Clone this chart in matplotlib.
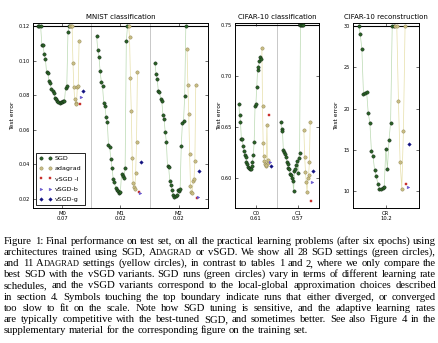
import numpy as np
import matplotlib
matplotlib.use("Agg")
import matplotlib.pyplot as plt
from matplotlib.lines import Line2D

# ---- data (test error per setting, left to right) ----
mnist_labels = ["M0\n0.07", "M1\n0.02", "M2\n0.02"]
m0_sgd = [0.12, 0.12, 0.12, 0.1093, 0.1090, 0.1038, 0.1009, 0.0933, 0.0928, 0.0881,
          0.0868, 0.0835, 0.0826, 0.0812, 0.0785, 0.0780, 0.0765, 0.0759, 0.0757,
          0.0759, 0.0761, 0.0765, 0.0763, 0.0841, 0.0852, 0.1165, 0.12]
m0_ada = [0.12, 0.12, 0.12, 0.0986, 0.0846, 0.0777, 0.0757, 0.0748, 0.0846, 0.0851, 0.1113]
m0_vsgd = [0.0750, 0.0788, 0.0823]
m1_sgd = [0.1144, 0.1061, 0.1020, 0.0939, 0.0875, 0.0852, 0.0754, 0.0736, 0.0672, 0.0643,
          0.0510, 0.0499, 0.0429, 0.0377, 0.0313, 0.0296, 0.0261, 0.0249, 0.0243, 0.0232,
          0.0236, 0.0342, 0.0330, 0.0319, 0.0377, 0.1113, 0.12]
m1_ada = [0.12, 0.1136, 0.0899, 0.0707, 0.0435, 0.0290, 0.0267, 0.0255, 0.0348, 0.0528, 0.0933]
m1_vsgd = [0.0238, 0.0232, 0.0412]
m2_sgd = [0.0987, 0.0922, 0.0893, 0.0822, 0.0817, 0.0780, 0.0765, 0.0684, 0.0660, 0.0586,
          0.0528, 0.0386, 0.0380, 0.0301, 0.0278, 0.0249, 0.0220, 0.0209, 0.0212, 0.0220,
          0.0250, 0.0244, 0.0255, 0.0504, 0.0638, 0.0650, 0.0794, 0.12]
m2_ada = [0.1067, 0.0858, 0.0690, 0.0458, 0.0272, 0.0240, 0.0232, 0.0300, 0.0313, 0.0417, 0.0858]
m2_vsgd = [0.0203, 0.0210, 0.0359]

cifar_labels = ["C0\n0.61", "C1\n0.57"]
c0_sgd = [0.6732, 0.6618, 0.6553, 0.6390, 0.6385, 0.6320, 0.6270, 0.6230, 0.6210, 0.6160,
          0.6140, 0.6110, 0.6100, 0.6090, 0.6095, 0.6124, 0.6160, 0.6230, 0.6360, 0.6710,
          0.6730, 0.6900, 0.7066, 0.7090, 0.7150, 0.7190, 0.7170]
c0_ada = [0.7280, 0.6710, 0.6350, 0.6220, 0.6170, 0.6140, 0.6124, 0.6135, 0.6526, 0.6150, 0.6180]
c0_vsgd = [0.6620, 0.6160, 0.6124]
c1_sgd = [0.6556, 0.6480, 0.6460, 0.6280, 0.6260, 0.6240, 0.6210, 0.6160, 0.6140, 0.6100,
          0.6090, 0.6045, 0.6030, 0.6000, 0.5970, 0.5880, 0.6070, 0.6090, 0.6135, 0.6170,
          0.6050, 0.6200, 0.6250, 0.75, 0.75, 0.75, 0.75]
c1_ada = [0.6470, 0.6213, 0.6065, 0.5967, 0.5870, 0.6000, 0.6030, 0.6160, 0.6550]
c1_vsgd = [0.5780, 0.5960, 0.6070]

recon_labels = ["CR\n10.2"]
cr_sgd = [30, 29.0, 27.2, 21.8, 21.9, 22.0, 19.4, 18.3, 14.8, 14.2, 12.5, 11.8, 10.9,
          10.3, 10.3, 10.4, 10.5, 15.1, 12.7, 16.2, 18.3, 30, 30]
cr_ada = [30, 30, 20.9, 13.5, 10.3, 17.3, 30]
cr_vsgd = [10.9, 10.5, 15.7]

caption = [
    "Figure 1: Final performance on test set, on all the practical learning problems (after six epochs) using",
    "architectures trained using SGD, ADAGRAD or vSGD. We show all 28 SGD settings (green circles),",
    "and 11 ADAGRAD settings (yellow circles), in contrast to tables 1 and 2, where we only compare the",
    "best SGD with the vSGD variants. SGD runs (green circles) vary in terms of different learning rate",
    "schedules, and the vSGD variants correspond to the local-global approximation choices described",
    "in section 4. Symbols touching the top boundary indicate runs that either diverged, or converged",
    "too slow to fit on the scale. Note how SGD tuning is sensitive, and the adaptive learning rates",
    "are typically competitive with the best-tuned SGD, and sometimes better. See also Figure 4 in the",
    "supplementary material for the corresponding figure on the training set.",
]

sgd_col = "#2a6226"
ada_col = "#c9bd84"
v_styles = [("s", "#c8302c", 2.0), (">", "#6a5acd", 2.0), ("D", "#101080", 1.8)]
dot = 2.4

W, H = 439, 343
fig = plt.figure(figsize=(W / 100, H / 100), dpi=100)


def panel(left, right, top_v, lims, ticks, ticklabels, title, names, groups, label_x=None):
    ax = fig.add_axes([left / W, 1 - 208 / H, (right - left) / W, (208 - 22.7) / H])
    n = len(names)
    for b in range(1, n):
        ax.axvline(b - 0.5, color="#c8c8c8", lw=0.7, zorder=0)
    ax.axhline(top_v, color="black", lw=0.8, zorder=2)
    for c, (sgd, ada, vs) in enumerate(groups):
        xs = c + np.linspace(-0.41, 0.12, len(sgd))
        xa = c + np.linspace(0.14, 0.29, len(ada))
        ax.plot(xs, sgd, "-", color="#b9d9b0", lw=0.5, zorder=1)
        ax.plot(xa, ada, "-", color="#e6dfa8", lw=0.5, zorder=1)
        ax.plot(xs, sgd, "o", ms=dot, mfc=sgd_col, mec="#102010", mew=0.3, zorder=3)
        ax.plot(xa, ada, "o", ms=dot, mfc=ada_col, mec="#8c8350", mew=0.3, zorder=3)
        for dx, v, (m, col, ms) in zip([0.31, 0.33, 0.35], vs, v_styles):
            ax.plot(c + dx, v, m, ms=ms, mfc=col, mec=col, mew=0.3, zorder=4)
    ax.set_xlim(-0.5, n - 0.5)
    ax.set_ylim(*lims)
    ax.set_xticks(range(n))
    ax.set_xticklabels(names, fontsize=3.8, linespacing=1.1)
    ax.set_yticks(ticks)
    ax.set_yticklabels(ticklabels, fontsize=3.6)
    ax.tick_params(direction="in", length=2, width=0.4, pad=2, right=True, top=True)
    ax.set_ylabel("Test error", fontsize=4.3, labelpad=3)
    if label_x is not None:
        ax.yaxis.set_label_coords(label_x, 0.5)
    ax.set_title(title, fontsize=5, pad=2.5)
    for s in ax.spines.values():
        s.set_linewidth(0.7)
    return ax


ax1 = panel(33, 208, 0.12, (0.0145, 0.122), [0.02, 0.04, 0.06, 0.08, 0.10, 0.12],
            ["0.02", "0.04", "0.06", "0.08", "0.10", "0.12"], "MNIST classification",
            mnist_labels, [(m0_sgd, m0_ada, m0_vsgd), (m1_sgd, m1_ada, m1_vsgd),
                           (m2_sgd, m2_ada, m2_vsgd)])
ax2 = panel(235, 319, 0.75, (0.571, 0.7526), [0.60, 0.65, 0.70, 0.75],
            ["0.60", "0.65", "0.70", "0.75"], "CIFAR-10 classification",
            cifar_labels, [(c0_sgd, c0_ada, c0_vsgd), (c1_sgd, c1_ada, c1_vsgd)],
            label_x=-0.16)
ax3 = panel(352.7, 419, 30, (7.94, 30.4), [10, 15, 20, 25, 30],
            ["10", "15", "20", "25", "30"], "CIFAR-10 reconstruction",
            recon_labels, [(cr_sgd, cr_ada, cr_vsgd)])

handles = [Line2D([], [], ls="none", marker="o", ms=dot, mfc=sgd_col, mec="#102010", mew=0.3),
           Line2D([], [], ls="none", marker="o", ms=dot, mfc=ada_col, mec="#8c8350", mew=0.3)]
for m, col, ms in v_styles:
    handles.append(Line2D([], [], ls="none", marker=m, ms=ms, mfc=col, mec=col, mew=0.3))
leg = ax1.legend(handles, ["SGD", "adagrad", "vSGD -l", "vSGD-b", "vSGD-g"], loc="lower left",
                 numpoints=2, fontsize=4.6, handlelength=2.0, labelspacing=0.75,
                 borderpad=0.5, handletextpad=0.5, fancybox=False, framealpha=1,
                 borderaxespad=0.4)
leg.get_frame().set_edgecolor("black")
leg.get_frame().set_linewidth(0.6)

# ---- caption, justified word by word ----
renderer = fig.canvas.get_renderer()
x0, x1 = 4.0, 436.0

# pick the font size so that the first line fits the text width naturally
probe = fig.text(0, 0, caption[0], fontsize=10, family="Liberation Serif")
fs = 10 * (x1 - x0) / probe.get_window_extent(renderer).width
probe.remove()


def make_word(w):
    # returns list of text artists forming one word (small caps for ADAGRAD)
    parts = [(w, 1.0)]
    if w.startswith("ADAGRAD"):
        parts = [("A", 1.0), ("DAGRAD" + w[7:], 0.78)]
    arts = []
    for s, f in parts:
        t = fig.text(0, 0, s, fontsize=fs * f, family="Liberation Serif", va="baseline")
        arts.append((t, t.get_window_extent(renderer).width))
    return arts


space = fs * 0.25 * 100 / 72
for i, line in enumerate(caption):
    words = [make_word(w) for w in line.split()]
    widths = [sum(wd for _, wd in arts) for arts in words]
    gap = (x1 - x0 - sum(widths)) / (len(words) - 1)
    if i == len(caption) - 1:
        gap = space
    y = 243.5 + i * 11.2
    x = x0
    for arts, wd in zip(words, widths):
        xx = x
        for t, w in arts:
            t.set_position((xx / W, 1 - y / H))
            xx += w
        x += wd + gap

fig.savefig("out.png", dpi=100)
